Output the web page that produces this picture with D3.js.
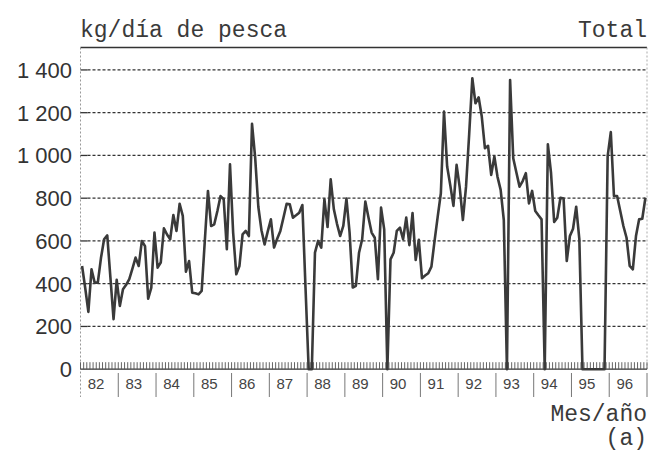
<!DOCTYPE html>
<html>
<head>
<meta charset="utf-8">
<script src="https://cdn.jsdelivr.net/npm/d3@7"></script>
<style>
  html, body { margin: 0; padding: 0; background: #fff; }
</style>
</head>
<body>
<div id="chart"></div>
<script>
// kg per fishing day, one value per month, Jan 1982 .. Dec 1996
const catch8285 = [
  483, 380, 268, 467, 405, 405, 520, 608, 626, 430, 234, 418,
  296, 374, 395, 421, 470, 522, 483, 600, 576, 330, 382, 639,
  475, 499, 659, 630, 608, 721, 647, 774, 717, 456, 506, 358,
  355, 350, 366, 600, 834, 670, 678, 740, 810, 795, 561, 958
];
const catch8690 = [
  639, 444, 483, 631, 647, 623, 1148, 990, 760, 650, 584, 645,
  701, 569, 610, 647, 710, 774, 771, 709, 720, 732, 768, 380,
  0, 0, 545, 600, 569, 795, 665, 888, 748, 680, 623, 670,
  798, 639, 382, 390, 545, 608, 784, 710, 639, 615, 421, 756,
  654, 0, 514, 545, 647, 662, 608, 709, 580, 730, 511, 605
];
const catch9196 = [
  426, 438, 449, 480, 600, 714, 823, 1205, 948, 860, 764, 956,
  850, 698, 854, 1100, 1361, 1244, 1272, 1182, 1034, 1045, 909, 995,
  900, 839, 698, 0, 1353, 987, 920, 854, 880, 917, 776, 834,
  740, 720, 701, 0, 1052, 919, 689, 709, 802, 798, 506, 623,
  657, 760, 608, 0, 0, 0, 0, 0, 0, 0, 0, 997,
  1109, 810, 810, 740, 670, 615, 483, 467, 623, 701, 704, 802
];
const yearLabels = ['82', '83', '84', '85', '86', '87', '88', '89', '90', '91', '92', '93', '94', '95', '96'];
const yTicks = [0, 200, 400, 600, 800, 1000, 1200, 1400];

const values = catch8285.concat(catch8690, catch9196);

const width = 655;
const height = 451;
const plotLeft = 80.5;
const plotRight = 647;
const plotTop = 47.5;
const plotBottom = 369.2;

const svg = d3.select('#chart').append('svg').attr('width', width).attr('height', height);

const x = d3.scaleLinear().domain([0, values.length]).range([plotLeft, plotRight]);
const y = d3.scaleLinear().domain([0, 1505]).range([plotBottom, plotTop]);

const ink = '#333';
const mono = "'Liberation Mono', 'DejaVu Sans Mono', monospace";
const sans = "'Liberation Sans', Arial, sans-serif";

// frame: solid top, dotted sides
svg.append('line')
  .attr('x1', plotLeft).attr('x2', plotRight).attr('y1', plotTop).attr('y2', plotTop)
  .style('stroke', ink).style('stroke-width', 1.4);

svg.append('line')
  .attr('x1', plotLeft).attr('x2', plotLeft).attr('y1', plotTop).attr('y2', 397)
  .style('stroke', '#999').style('stroke-width', 1).style('stroke-dasharray', '2,2');

svg.append('line')
  .attr('x1', plotRight).attr('x2', plotRight).attr('y1', plotTop).attr('y2', plotBottom)
  .style('stroke', '#aaa').style('stroke-width', 1).style('stroke-dasharray', '2,2');

// gridlines with a short solid tick on the left
const grid = svg.append('g');
yTicks.filter(d => d > 0).forEach(d => {
  grid.append('line')
    .attr('x1', plotLeft).attr('x2', plotLeft + 7).attr('y1', y(d)).attr('y2', y(d))
    .style('stroke', ink).style('stroke-width', 1.3);
  grid.append('line')
    .attr('x1', plotLeft + 7).attr('x2', plotRight).attr('y1', y(d)).attr('y2', y(d))
    .style('stroke', ink).style('stroke-width', 1.3).style('stroke-dasharray', '3,2');
});

// y axis labels
svg.append('g')
  .selectAll('text')
  .data(yTicks)
  .enter()
  .append('text')
  .attr('x', 72)
  .attr('y', d => y(d))
  .attr('dy', '0.36em')
  .attr('text-anchor', 'end')
  .style('font-family', sans)
  .style('font-size', '22px')
  .style('fill', ink)
  .text(d => (d >= 1000 ? d3.format(',')(d).replace(',', ' ') : d));

// monthly tick band on the zero line
svg.append('line')
  .attr('x1', plotLeft).attr('x2', plotRight).attr('y1', plotBottom).attr('y2', plotBottom)
  .style('stroke', ink).style('stroke-width', 1.2);

svg.append('g')
  .selectAll('line')
  .data(d3.range(values.length + 1))
  .enter()
  .append('line')
  .attr('x1', d => x(d)).attr('x2', d => x(d))
  .attr('y1', plotBottom - 7).attr('y2', plotBottom)
  .style('stroke', '#555')
  .style('stroke-width', 0.9);

// year separators and labels
const years = svg.append('g');
years.selectAll('line')
  .data(d3.range(1, yearLabels.length + 1))
  .enter()
  .append('line')
  .attr('x1', d => x(d * 12)).attr('x2', d => x(d * 12))
  .attr('y1', 373).attr('y2', 397)
  .style('stroke', '#777')
  .style('stroke-width', 1);

years.selectAll('text')
  .data(yearLabels)
  .enter()
  .append('text')
  .attr('x', (d, i) => x(i * 12) + 15.5)
  .attr('y', 389)
  .attr('text-anchor', 'middle')
  .style('font-family', sans)
  .style('font-size', '15px')
  .style('fill', '#444')
  .text(d => d);

// the series
const line = d3.line()
  .x((d, i) => x(i + 0.5))
  .y(d => y(d));

svg.append('path')
  .datum(values)
  .attr('d', line)
  .style('fill', 'none')
  .style('stroke', '#3a3a3a')
  .style('stroke-width', 2.6)
  .style('stroke-linejoin', 'round');

// titles
const titles = [
  { text: 'kg/día de pesca', x: 80, y: 37, anchor: 'start' },
  { text: 'Total', x: plotRight, y: 37, anchor: 'end' },
  { text: 'Mes/año', x: plotRight, y: 421, anchor: 'end' },
  { text: '(a)', x: plotRight, y: 445, anchor: 'end' }
];

svg.append('g')
  .selectAll('text')
  .data(titles)
  .enter()
  .append('text')
  .attr('x', d => d.x)
  .attr('y', d => d.y)
  .attr('text-anchor', d => d.anchor)
  .style('font-family', mono)
  .style('font-size', '23px')
  .style('fill', '#3a3a3a')
  .text(d => d.text);
</script>
</body>
</html>
